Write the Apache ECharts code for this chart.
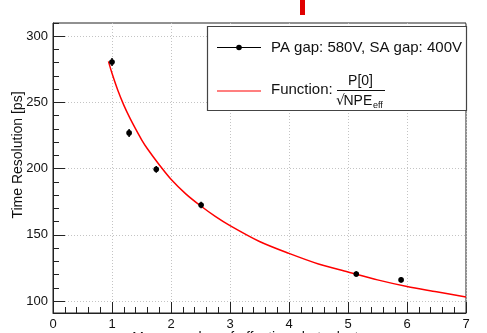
<!DOCTYPE html>
<html>
<head>
<meta charset="utf-8">
<script src="https://cdn.jsdelivr.net/npm/echarts@6/dist/echarts.min.js"></script>
<style>
html, body { margin: 0; padding: 0; background: #fff; }
#chart { width: 487px; height: 333px; }
</style>
</head>
<body>
<div id="chart"></div>
<script>
// measured points
const npe = [1.0, 1.29, 1.75, 2.51, 5.14, 5.9]
const resolution = [280.5, 227, 199.5, 172.6, 120.5, 116]
const npeErr = [0.04, 0.04, 0.04, 0.04, 0.04, 0.04]
const resErr = [3, 3, 2.5, 2.5, 2, 2]
// fitted curve
const fitX = [0.94, 1.0, 1.1, 1.2, 1.3, 1.4, 1.5, 1.6, 1.8, 2.0, 2.25, 2.5, 2.75, 3.0, 3.5, 4.0, 4.5, 5.0, 5.5, 6.0, 6.5, 7.0]
const fitY = [281, 272, 259, 248, 238.5, 230, 222, 215, 203, 192, 181, 172, 164, 157, 145, 136, 128, 122, 116, 111, 107, 103]
// axis ticks
const yMajor = [100, 150, 200, 250, 300]
const yMinor = [100, 110, 120, 130, 140, 150, 160, 170, 180, 190, 200, 210, 220, 230, 240, 250, 260, 270, 280, 290, 300, 310]

const FONT = '"Liberation Sans", Arial, Helvetica, sans-serif'
const chart = echarts.init(document.getElementById('chart'))

const points = npe.map((x, i) => [x, resolution[i], npeErr[i], resErr[i]])

chart.setOption({
  animation: false,
  grid: { left: 53, right: 21, top: 23, bottom: 20, show: true, borderColor: '#222', borderWidth: 1, containLabel: false },
  xAxis: {
    type: 'value', min: 0, max: 7, interval: 1,
    axisLine: { show: true, onZero: false, lineStyle: { color: '#222' } },
    axisTick: { inside: true, length: 11, lineStyle: { color: '#222' } },
    minorTick: { show: true, splitNumber: 5, length: 6, lineStyle: { color: '#222' } },
    axisLabel: { color: '#111', fontSize: 13, fontFamily: FONT, margin: 5 },
    splitLine: { show: true, lineStyle: { color: '#c4c4c4', type: [1, 2] } }
  },
  yAxis: [{
    type: 'value', min: 91, max: 310,
    axisLine: { show: true, onZero: false, lineStyle: { color: '#222' } },
    axisTick: { inside: true, length: 12, customValues: yMajor, lineStyle: { color: '#222' } },
    axisLabel: { color: '#111', fontSize: 13, fontFamily: FONT, margin: 5, customValues: yMajor },
    splitLine: { show: true, lineStyle: { color: '#c4c4c4', type: [1, 2] } }
  }, {
    type: 'value', min: 91, max: 310, position: 'left',
    axisLine: { show: false },
    axisTick: { inside: true, length: 6, customValues: yMinor, lineStyle: { color: '#222' } },
    axisLabel: { show: false },
    splitLine: { show: false }
  }],
  series: [
    {
      type: 'line', name: 'fit', data: fitX.map((x, i) => [x, fitY[i]]),
      smooth: 0.3, showSymbol: false, lineStyle: { color: '#ff0000', width: 1.5 }, z: 2
    },
    {
      type: 'custom', name: 'errors', data: points, z: 3,
      renderItem: (params, api) => {
        const x = api.value(0), y = api.value(1), ex = api.value(2), ey = api.value(3)
        const c = api.coord([x, y])
        const t = api.coord([x, y + ey]), b = api.coord([x, y - ey])
        const l = api.coord([x - ex, y]), r = api.coord([x + ex, y])
        const st = { stroke: '#000', lineWidth: 1.5 }
        return {
          type: 'group', children: [
            { type: 'line', shape: { x1: c[0], y1: t[1], x2: c[0], y2: b[1] }, style: st },
            { type: 'line', shape: { x1: l[0], y1: c[1], x2: r[0], y2: c[1] }, style: st },
            { type: 'circle', shape: { cx: c[0], cy: c[1], r: 2.8 }, style: { fill: '#000' } }
          ]
        }
      }
    }
  ],
  graphic: [
    { type: 'rect', shape: { x: 300, y: 0, width: 5, height: 15 }, style: { fill: '#e00000' } },
    {
      type: 'text', x: 18, y: 155, rotation: Math.PI / 2,
      style: { text: 'Time Resolution [ps]', font: '14px ' + FONT, fill: '#111', align: 'center', verticalAlign: 'middle' }
    },
    {
      type: 'text', x: 259, y: 331,
      style: { text: 'Mean number of effective photoelectrons', font: '14px ' + FONT, fill: '#111', align: 'center', verticalAlign: 'top' }
    },
    // legend box
    { type: 'rect', shape: { x: 207.5, y: 26.5, width: 259, height: 84 }, style: { fill: '#fff', stroke: '#444', lineWidth: 1.2 }, z: 10 },
    { type: 'line', shape: { x1: 217, y1: 47.5, x2: 261, y2: 47.5 }, style: { stroke: '#000', lineWidth: 1.2 }, z: 11 },
    { type: 'circle', shape: { cx: 239, cy: 47.5, r: 2.8 }, style: { fill: '#000' }, z: 11 },
    { type: 'text', x: 271, y: 48, style: { text: 'PA gap: 580V, SA gap: 400V', font: '15px ' + FONT, fill: '#111', verticalAlign: 'middle' }, z: 11 },
    { type: 'line', shape: { x1: 217, y1: 91, x2: 261, y2: 91 }, style: { stroke: '#ff0000', lineWidth: 1.2 }, z: 11 },
    { type: 'text', x: 271, y: 89.5, style: { text: 'Function:', font: '15px ' + FONT, fill: '#111', verticalAlign: 'middle' }, z: 11 },
    { type: 'text', x: 360.5, y: 81.5, style: { text: 'P[0]', font: '14px ' + FONT, fill: '#111', align: 'center', verticalAlign: 'middle' }, z: 11 },
    { type: 'line', shape: { x1: 337, y1: 90.5, x2: 385, y2: 90.5 }, style: { stroke: '#111', lineWidth: 1 }, z: 11 },
    { type: 'text', x: 336, y: 101.5, style: { text: '√', font: '14px "DejaVu Sans", ' + FONT, fill: '#111', verticalAlign: 'middle' }, z: 11 },
    { type: 'text', x: 343.5, y: 101.5, style: { text: 'NPE', font: '14px ' + FONT, fill: '#111', verticalAlign: 'middle' }, z: 11 },
    { type: 'text', x: 373, y: 105.5, style: { text: 'eff', font: '9px ' + FONT, fill: '#111', verticalAlign: 'middle' }, z: 11 }
  ]
})
</script>
</body>
</html>
